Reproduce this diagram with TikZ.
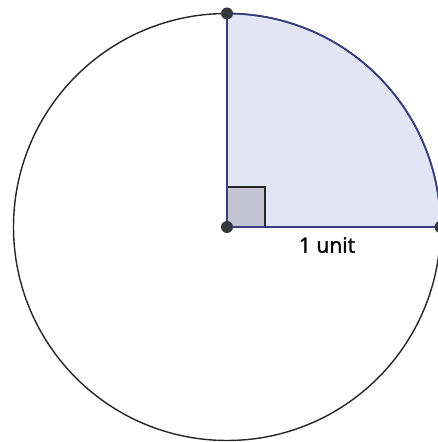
\documentclass[tikz,border=0pt]{standalone}
\usepackage{fontspec}
\newfontfamily\labelfont[FakeBold=1.5]{Open Sans}
\usetikzlibrary{calc, positioning}
\definecolor{quadfill}{RGB}{226,229,244}
\definecolor{quadline}{RGB}{55,62,130}
\definecolor{boxfill}{RGB}{196,195,210}
\definecolor{dotgray}{RGB}{52,56,60}

\begin{document}
\begin{tikzpicture}[x=0.02cm, y=0.02cm,
    pt/.style={circle, fill=dotgray, inner sep=0pt, minimum size=0.24cm},
    lbl/.style={font=\labelfont\fontsize{12}{14}\selectfont}]
        \useasboundingbox (0,0) rectangle (438,442);
        \clip (0,0) rectangle (438,442);

        \coordinate (o) at (227,215);
        \coordinate (a) at ($(o)+(213.5,0)$);
        \coordinate (b) at ($(o)+(0,213.5)$);

        % shaded quarter
        \fill[quadfill] (o) -- (a) arc (0:90:213.5) -- cycle;
        \draw[line width=0.8pt, draw=black!85] (o) circle (213.5);
        \draw[quadline, line width=1pt] (a) arc (0:90:213.5);

        % right angle mark
        \draw[fill=boxfill, draw=black!85, line width=0.8pt] (o) rectangle ($(o)+(38,40)$);

        \draw[quadline, line width=1.1pt] (o) -- (a);
        \draw[quadline, line width=1.1pt] (o) -- (b);

        \node[pt] (ctr) at (o) {};
        \node[pt] (top) at (b) {};
        \node[pt] (rgt) at (a) {};

        \node[lbl] (unit) at ($(o)+(100,-18)$) {1 unit};
    \end{tikzpicture}
\end{document}
